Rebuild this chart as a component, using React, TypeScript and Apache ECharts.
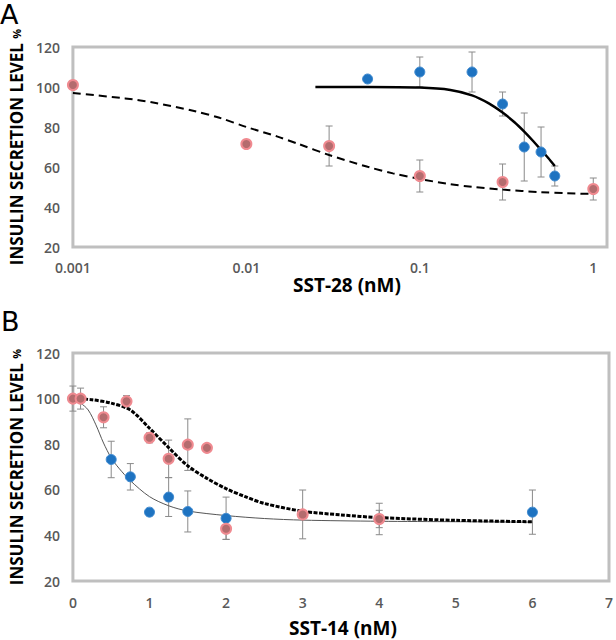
import React, { useEffect, useRef } from "react";
import * as echarts from "echarts";

// ---------- Panel A (SST-28, log axis) ----------
const xTickLabelsA = ["0.001", "0.01", "0.1", "1"];
const yTicks = [20, 40, 60, 80, 100, 120];

const xA_blue = [0.05, 0.1, 0.2, 0.3, 0.4, 0.5, 0.6];
const yA_blue = [104, 107.5, 107.5, 91.5, 70, 67.5, 55.5];
const errA_blue = [0, 7.5, 10, 6, 17, 12.5, 5];

const xA_red = [0.001, 0.01, 0.03, 0.1, 0.3, 1];
const yA_red = [101, 71.5, 70.5, 55.5, 52.5, 49];
const errA_red = [2, 0, 10, 8, 9, 5.5];

const fitA_blue_x = [0.025, 0.05, 0.1, 0.15, 0.2, 0.25, 0.3, 0.35, 0.4, 0.45, 0.5, 0.55, 0.6];
const fitA_blue_y = [100, 100, 99.7, 98.5, 95.8, 91.8, 87.2, 82.5, 77.7, 73, 68.5, 64.5, 60.5];

const fitA_red_x = [0.001, 0.002, 0.003, 0.005, 0.007, 0.01, 0.015, 0.02, 0.03, 0.05, 0.07, 0.1, 0.15, 0.2, 0.3, 0.5, 0.7, 1];
const fitA_red_y = [97, 94.3, 92, 88, 84.6, 80, 75.3, 71.5, 66, 60.1, 56.8, 54, 51.4, 50.1, 48.7, 47.4, 46.9, 46.5];

// ---------- Panel B (SST-14, linear axis) ----------
const xB_blue = [0, 0.5, 0.75, 1, 1.25, 1.5, 2, 4, 6];
const yB_blue = [100, 73.3, 65.7, 50.2, 56.8, 50.5, 47.5, 47.2, 50.2];
const errB_blue = [5.5, 8, 5.8, 1.5, 8.5, 9, 9.3, 3.8, 9.7];

const xB_red = [0, 0.1, 0.4, 0.7, 1, 1.25, 1.5, 1.75, 2, 3, 4];
const yB_red = [100, 100, 91.8, 98.8, 82.8, 73.6, 79.8, 78.4, 42.9, 49.2, 47.2];
const errB_red = [0, 4.6, 4.6, 2.5, 2.2, 8.2, 11.3, 0, 4.6, 10.7, 6.9];

const fitB_blue_x = [0, 0.1, 0.2, 0.3, 0.4, 0.5, 0.6, 0.75, 1, 1.25, 1.5, 2, 2.5, 3, 4, 5, 6];
const fitB_blue_y = [99.5, 98, 95, 88.5, 80.5, 74, 69.5, 64, 57, 53, 50.7, 48.7, 47.4, 46.7, 46.2, 46, 45.8];

const fitB_red_x = [0, 0.25, 0.5, 0.75, 1, 1.25, 1.5, 1.75, 2, 2.25, 2.5, 3, 3.5, 4, 5, 6];
const fitB_red_y = [100, 99.5, 98, 95, 87, 78.5, 70.5, 65, 60.5, 57, 54, 50.6, 49, 47.8, 46.6, 46];

const FONT = "'Open Sans', sans-serif";
const BLUE = "#1e73c1";
const BLUE_EDGE = "#3f8ad0";
const RED = "#b46c6e";
const RED_EDGE = "#f08a90";

const pairs = (xs: number[], ys: number[]) => xs.map((x, i) => [x, ys[i]]);
const triples = (xs: number[], ys: number[], es: number[]) =>
  xs.map((x, i) => [x, ys[i], es[i]]).filter((d) => d[2] > 0);

const errRender = (params: any, api: any) => {
  const x = api.value(0);
  const y = api.value(1);
  const e = api.value(2);
  const top = api.coord([x, y + e]);
  const bot = api.coord([x, y - e]);
  const w = 3.5;
  const style = { stroke: "#8a8a8a", lineWidth: 1 };
  return {
    type: "group",
    children: [
      { type: "line", shape: { x1: top[0], y1: top[1], x2: bot[0], y2: bot[1] }, style },
      { type: "line", shape: { x1: top[0] - w, y1: top[1], x2: top[0] + w, y2: top[1] }, style },
      { type: "line", shape: { x1: bot[0] - w, y1: bot[1], x2: bot[0] + w, y2: bot[1] }, style },
    ],
  };
};

const yAxisCommon = (gridIndex: number, gap: number) => ({
  type: "value",
  gridIndex,
  min: 20,
  max: 120,
  interval: 20,
  axisLine: { show: false },
  axisTick: { show: false },
  splitLine: { show: false },
  axisLabel: {
    margin: 13,
    fontFamily: FONT,
    fontSize: 14,
    fontWeight: 600,
    color: "#595959",
    formatter: (v: number) => (yTicks.includes(v) ? String(v) : ""),
  },
  name: "INSULIN SECRETION LEVEL {p|%}",
  nameLocation: "middle",
  nameRotate: 90,
  nameGap: gap,
  nameTextStyle: {
    fontFamily: FONT,
    fontWeight: "bold",
    fontSize: 17,
    color: "#000",
    rich: { p: { fontFamily: FONT, fontWeight: "bold", fontSize: 11, color: "#000" } },
  },
});

export default function App() {
  const ref = useRef<HTMLDivElement>(null);
  useEffect(() => {
    if (!ref.current) return;
    const chart = echarts.init(ref.current, undefined, { renderer: "svg" });
    const option: any = {
      animation: false,
      backgroundColor: "#ffffff",
      grid: [
        { left: 64, top: 47, width: 543, height: 200, show: true, borderColor: "#bfbfbf", borderWidth: 3 },
        { left: 63, top: 353, width: 550, height: 228, show: true, borderColor: "#bfbfbf", borderWidth: 3 },
      ],
      xAxis: [
        {
          type: "log",
          logBase: 10,
          gridIndex: 0,
          min: 0.001,
          max: 1.2,
          axisLine: { show: false },
          axisTick: { show: false },
          splitLine: { show: false },
          axisLabel: {
            margin: 13,
            fontFamily: FONT,
            fontSize: 14,
            fontWeight: 600,
            color: "#595959",
            showMaxLabel: false,
            formatter: (v: number) => {
              const l = Math.log10(v);
              const r = Math.round(l);
              if (Math.abs(l - r) > 1e-6) return "";
              return xTickLabelsA[r + 3] ?? "";
            },
          },
          name: "SST-28 (nM)",
          nameLocation: "middle",
          nameGap: 28,
          nameTextStyle: { fontFamily: FONT, fontWeight: "bold", fontSize: 19, color: "#000", padding: [0, 0, 0, 14] },
        },
        {
          type: "value",
          gridIndex: 1,
          min: 0,
          max: 7,
          interval: 1,
          axisLine: { show: false },
          axisTick: { show: false },
          splitLine: { show: false },
          axisLabel: {
            margin: 14,
            fontFamily: FONT,
            fontSize: 14,
            fontWeight: 600,
            color: "#595959",
          },
          name: "SST-14 (nM)",
          nameLocation: "middle",
          nameGap: 37,
          nameTextStyle: { fontFamily: FONT, fontWeight: "bold", fontSize: 19, color: "#000", padding: [0, 0, 0, 4] },
        },
      ],
      yAxis: [yAxisCommon(0, 44), yAxisCommon(1, 43)],
      graphic: [
        { type: "text", left: 0, top: 1, style: { text: "A", fontFamily: "'DejaVu Sans', sans-serif", fontSize: 27, fill: "#000" } },
        { type: "text", left: 1, top: 308, style: { text: "B", fontFamily: "'DejaVu Sans', sans-serif", fontSize: 27, fill: "#000" } },
      ],
      series: [
        // Panel A
        { type: "custom", xAxisIndex: 0, yAxisIndex: 0, data: triples(xA_blue, yA_blue, errA_blue), renderItem: errRender, encode: { x: 0, y: 1 }, z: 1 },
        { type: "custom", xAxisIndex: 0, yAxisIndex: 0, data: triples(xA_red, yA_red, errA_red), renderItem: errRender, encode: { x: 0, y: 1 }, z: 1 },
        {
          type: "line", xAxisIndex: 0, yAxisIndex: 0, data: pairs(fitA_red_x, fitA_red_y), smooth: 0.3, showSymbol: false, symbol: "none",
          lineStyle: { color: "#000", width: 2, type: [8, 5] }, z: 2,
        },
        {
          type: "line", xAxisIndex: 0, yAxisIndex: 0, data: pairs(fitA_blue_x, fitA_blue_y), smooth: 0.3, showSymbol: false, symbol: "none",
          lineStyle: { color: "#000", width: 2.5 }, z: 2,
        },
        {
          type: "scatter", xAxisIndex: 0, yAxisIndex: 0, data: pairs(xA_blue, yA_blue), symbolSize: 10,
          itemStyle: { color: BLUE, borderColor: BLUE_EDGE, borderWidth: 1, opacity: 1 }, z: 3,
        },
        {
          type: "scatter", xAxisIndex: 0, yAxisIndex: 0, data: pairs(xA_red, yA_red), symbolSize: 10,
          itemStyle: { color: RED, borderColor: RED_EDGE, borderWidth: 2, opacity: 1 }, z: 3,
        },
        // Panel B
        { type: "custom", xAxisIndex: 1, yAxisIndex: 1, data: triples(xB_blue, yB_blue, errB_blue), renderItem: errRender, encode: { x: 0, y: 1 }, z: 1 },
        { type: "custom", xAxisIndex: 1, yAxisIndex: 1, data: triples(xB_red, yB_red, errB_red), renderItem: errRender, encode: { x: 0, y: 1 }, z: 1 },
        {
          type: "line", xAxisIndex: 1, yAxisIndex: 1, data: pairs(fitB_blue_x, fitB_blue_y), smooth: 0.3, showSymbol: false, symbol: "none",
          lineStyle: { color: "#555", width: 1 }, z: 2,
        },
        {
          type: "line", xAxisIndex: 1, yAxisIndex: 1, data: pairs(fitB_red_x, fitB_red_y), smooth: 0.3, showSymbol: false, symbol: "none",
          lineStyle: { color: "#000", width: 3, type: [4, 1.5] }, z: 2,
        },
        {
          type: "scatter", xAxisIndex: 1, yAxisIndex: 1, data: pairs(xB_blue, yB_blue), symbolSize: 10,
          itemStyle: { color: BLUE, borderColor: BLUE_EDGE, borderWidth: 1, opacity: 1 }, z: 3,
        },
        {
          type: "scatter", xAxisIndex: 1, yAxisIndex: 1, data: pairs(xB_red, yB_red), symbolSize: 10,
          itemStyle: { color: RED, borderColor: RED_EDGE, borderWidth: 2, opacity: 1 }, z: 4,
        },
      ],
    };
    chart.setOption(option);
    return () => chart.dispose();
  }, []);
  return (
    <div
      ref={ref}
      style={{ position: "absolute", left: 0, top: 0, width: 616, height: 640, background: "#fff" }}
    />
  );
}
